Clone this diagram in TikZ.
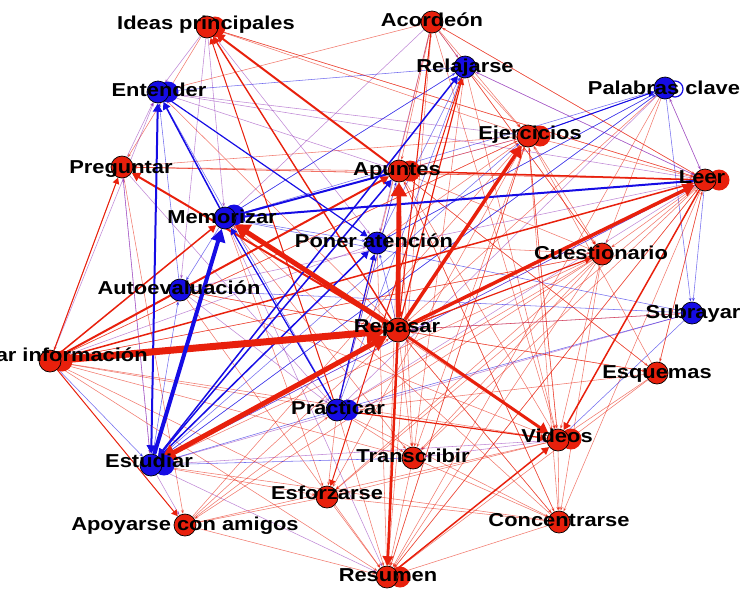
\documentclass[tikz,border=0pt]{standalone}
\usepackage{fontspec}
\setmainfont{Liberation Sans}[FakeStretch=1.17]
\usetikzlibrary{arrows.meta}
\definecolor{nred}{RGB}{232,32,12}
\definecolor{nblue}{RGB}{22,12,228}
\definecolor{npurp}{RGB}{140,40,180}
\pgfdeclarelayer{background}
\pgfsetlayers{background,main}
\begin{document}
\begin{tikzpicture}[x=1pt,y=-1pt,
  vr/.style={circle, fill=nred, draw=black, line width=0.7pt, minimum size=22pt, inner sep=0pt},
  vb/.style={vr, fill=nblue},
  gr/.style={circle, fill=nred, minimum size=21pt, inner sep=0pt},
  gb/.style={gr, fill=nblue},
  lab/.style={font=\fontsize{18.7}{20}\selectfont\bfseries, text=black, inner sep=0pt, anchor=base},
  tr/.style={draw=nred, line width=0.55pt, opacity=0.6, -{Stealth[length=4pt,width=3pt]}},
  tp/.style={draw=npurp, line width=0.55pt, opacity=0.55, -{Stealth[length=4pt,width=3pt]}},
  tb/.style={draw=nblue, line width=0.55pt, opacity=0.6, -{Stealth[length=4pt,width=3pt]}},
  hr/.style={draw=nred, line width=#1, -{Triangle[length={4pt 2.2},width={4pt 2.6}]}},
  hb/.style={draw=nblue, line width=#1, -{Triangle[length={4pt 2.2},width={4pt 2.6}]}},
  hrr/.style={draw=nred, line width=#1, {Triangle[length={4pt 2.2},width={4pt 2.6}]}-{Triangle[length={4pt 2.2},width={4pt 2.6}]}},
  hbb/.style={draw=nblue, line width=#1, {Triangle[length={4pt 2.2},width={4pt 2.6}]}-{Triangle[length={4pt 2.2},width={4pt 2.6}]}},
]
\useasboundingbox (0,0) rectangle (743,590);
\clip (0,0) rectangle (743,590);

% ---- second circles of the doubled vertices ----
\node[gr] at (215,27) {};
\node[gb] at (168,92) {};
\node[gr] at (540,136) {};
\node[gr] at (410,171) {};
\node[gr] at (719,180) {};
\node[gb] at (234,215) {};
\node[gr] at (62,361) {};
\node[gb] at (348,410) {};
\node[gb] at (164,465) {};
\node[gr] at (571,439) {};
\node[gr] at (400,577) {};
\node[circle, draw=nblue, line width=1.2pt, minimum size=16pt, inner sep=0pt] at (675,89) {};

% ---- vertices ----
\node[vr] (ide) at (207,27) {};
\node[vr] (aco) at (432,22) {};
\node[vb] (rel) at (465,67) {};
\node[vb] (ent) at (158,92) {};
\node[vb] (pal) at (665,88) {};
\node[vr] (eje) at (528,136) {};
\node[vr] (pre) at (122,167) {};
\node[vr] (apu) at (399,171) {};
\node[vr] (lee) at (705,180) {};
\node[vb] (mem) at (225,218) {};
\node[vb] (pon) at (377,243) {};
\node[vr] (cue) at (602,254) {};
\node[vb] (aut) at (180,290) {};
\node[vr, minimum size=24pt] (rep) at (398,330) {};
\node[vb] (sub) at (692,313) {};
\node[vr] (bus) at (50,361) {};
\node[vr] (esq) at (657,373) {};
\node[vb] (pra) at (337,410) {};
\node[vb] (est) at (151,465) {};
\node[vr] (vid) at (558,440) {};
\node[vr] (tra) at (413,458) {};
\node[vr] (esf) at (327,497) {};
\node[vr] (apo) at (185,525) {};
\node[vr] (con) at (559,522) {};
\node[vr] (res) at (387,577) {};

\begin{pgfonlayer}{background}
% ---- light links ----
\foreach \a/\b/\s in {
  ide/ent/tp, ide/pre/tr, ide/mem/tp, ide/eje/tr, ide/lee/tr, ide/pon/tp, ide/aut/tp,
  aco/apu/tr, aco/rel/tp, aco/eje/tr, aco/lee/tr, aco/pon/tp, aco/pra/tr, aco/vid/tr,
  aco/res/tr, aco/ent/tr, aco/mem/tp, aco/cue/tr,
  rel/lee/tp, rel/eje/tr, rel/vid/tr, rel/cue/tr, rel/tra/tr, rel/mem/tb,
  pal/eje/tb, pal/lee/tp, pal/rep/tr, pal/res/tr, pal/cue/tr, pal/sub/tb, pal/pon/tb,
  pal/mem/tb, pal/pra/tp, pal/est/tb,
  eje/lee/tr, eje/res/tr, eje/tra/tr, eje/cue/tr, eje/con/tr, eje/bus/tr, eje/pre/tr,
  eje/ent/tp, eje/mem/tp, eje/vid/tr, eje/esf/tr,
  pre/ent/tp, pre/bus/tr, pre/est/tp, pre/apo/tr, pre/apu/tr, pre/lee/tr, pre/pra/tp,
  apu/lee/tr, apu/vid/tr, apu/res/tr, apu/con/tr, apu/pra/tp, apu/tra/tr, apu/cue/tr,
  apu/ent/tp, apu/eje/tr, apu/esq/tr,
  lee/cue/tr, lee/esq/tr, lee/sub/tb, lee/con/tr, lee/tra/tr, lee/esf/tr, lee/pra/tp,
  lee/est/tp, lee/res/tr, lee/pre/tr, lee/ent/tp, lee/aco/tr, lee/ide/tr, lee/rel/tp,
  lee/pal/tp,
  mem/pra/tb, mem/res/tp, mem/tra/tr, mem/vid/tr, mem/pon/tb, mem/aut/tb, mem/rel/tb,
  mem/esf/tr,
  pon/pal/tb, pon/rel/tb, pon/eje/tr, pon/res/tr, pon/cue/tr,
  cue/res/tr, cue/vid/tr, cue/apo/tr, cue/est/tr, cue/pra/tr, cue/tra/tr, cue/esf/tr,
  cue/bus/tr, cue/con/tr,
  aut/ent/tb, aut/pra/tp, aut/rep/tr, aut/vid/tr, aut/lee/tp, aut/res/tr,
  sub/rep/tp, sub/est/tp, sub/pra/tb, sub/vid/tb, sub/aut/tb, sub/mem/tb,
  bus/ent/tp, bus/pra/tr, bus/tra/tr, bus/vid/tr, bus/est/tb, bus/res/tr, bus/esf/tr,
  bus/pon/tp, bus/cue/tr, bus/eje/tr,
  esq/rep/tr, esq/vid/tr, esq/res/tr, esq/apu/tr, esq/eje/tr, esq/lee/tr, esq/pra/tr,
  pra/res/tr, pra/esf/tr, pra/tra/tr, pra/con/tr, pra/rel/tb, pra/ent/tb, pra/apu/tb,
  est/apo/tp, est/res/tp, est/esf/tr, est/tra/tb, est/vid/tp, est/pra/tb, est/eje/tb,
  est/lee/tb, est/pal/tb, est/aut/tb, est/pre/tp,
  vid/con/tr, vid/tra/tp, vid/esf/tr, vid/apo/tr, vid/eje/tr,
  tra/res/tr, tra/con/tr, esf/res/tr, esf/apo/tr, esf/con/tr,
  apo/res/tr, apo/pra/tr, apo/rep/tr, apo/eje/tr,
  con/rep/tr, con/apu/tr, con/est/tr, con/res/tr, con/mem/tr,
  res/lee/tr, res/eje/tr,
  rep/ent/tr, rep/aut/tr, rep/tra/tr, rep/esq/tr, rep/sub/tr, rep/con/tr, rep/pon/tb,
  rep/aco/tr, ent/rel/tb}
  \draw[\s] (\a) -- (\b);

% ---- medium links ----
\draw[hr=2pt] (apu) -- (ide);
\draw[hr=1.4pt] (rep) -- (ide);
\draw[hr=1pt] (pra) -- (ide);
\draw[hr=2pt] (bus) -- (apu);
\draw[hr=1.5pt] (bus) -- (mem);
\draw[hr=1.5pt] (bus) -- (lee);
\draw[hr=1pt] (bus) -- (pre);
\draw[hr=1pt] (bus) -- (apo);
\draw[hr=1.5pt] (lee) -- (apu);
\draw[hr=1.5pt] (lee) -- (vid);
\draw[hr=1.5pt] (res) -- (vid);
\draw[hr=1.2pt] (pra) -- (vid);
\draw[hr=2pt] (rep) -- (pre);
\draw[hr=1.2pt] (rep) -- (cue);
\draw[hr=1.2pt] (rep) -- (rel);
\draw[hr=1pt] (rel) -- (esf);
\draw[hr=1pt] (aco) -- (rep);
\draw[hb=2pt] (lee) -- (mem);
\draw[hbb=2pt] (est) -- (ent);
\draw[hb=1.5pt] (mem) -- (ent);
\draw[hb=2pt] (apu) -- (mem);
\draw[hbb=1.5pt] (est) -- (rel);
\draw[hbb=1.5pt] (est) -- (pon);
\draw[hbb=1.5pt] (est) -- (apu);
\draw[hb=1.2pt] (ent) -- (pon);
\draw[hb=1.2pt] (pra) -- (mem);
\draw[hb=1pt] (pra) -- (pon);
\draw[hb=1pt] (eje) -- (pal);

% ---- heavy links ----
\draw[hr=7pt] (bus) -- (rep);
\draw[hr=5pt] (rep) -- (mem);
\draw[hrr=5pt] (est) -- (rep);
\draw[hr=4.5pt] (rep) -- (apu);
\draw[hr=3.5pt] (rep) -- (eje);
\draw[hr=3.5pt] (rep) -- (lee);
\draw[hr=3pt] (rep) -- (vid);
\draw[hr=2.5pt] (rep) -- (res);
\draw[hb=4pt] (est) -- (mem);
\end{pgfonlayer}

% ---- labels ----
\node[lab] (ide-l) at (206,29) {Ideas principales};
\node[lab] (aco-l) at (432,26) {Acordeón};
\node[lab] (rel-l) at (465,72) {Relajarse};
\node[lab] (ent-l) at (159,96) {Entender};
\node[lab] (pal-l) at (664,94) {Palabras clave};
\node[lab] (eje-l) at (530,139) {Ejercicios};
\node[lab] (pre-l) at (121,173) {Preguntar};
\node[lab] (apu-l) at (397,175) {Apuntes};
\node[lab] (lee-l) at (702,183) {Leer};
\node[lab] (mem-l) at (222,223) {Memorizar};
\node[lab] (pon-l) at (374,247) {Poner atención};
\node[lab] (cue-l) at (601,259) {Cuestionario};
\node[lab] (aut-l) at (179,294) {Autoevaluación};
\node[lab] (rep-l) at (397,332) {Repasar};
\node[lab] (sub-l) at (693,318) {Subrayar};
\node[lab] (bus-l) at (45,361) {Buscar información};
\node[lab] (esq-l) at (657,378) {Esquemas};
\node[lab] (pra-l) at (338,414) {Prácticar};
\node[lab] (est-l) at (149,467) {Estudiar};
\node[lab] (vid-l) at (557,442) {Videos};
\node[lab] (tra-l) at (413,462) {Transcribir};
\node[lab] (esf-l) at (327,499) {Esforzarse};
\node[lab] (apo-l) at (185,530) {Apoyarse con amigos};
\node[lab] (con-l) at (559,526) {Concentrarse};
\node[lab] (res-l) at (388,581) {Resumen};
\end{tikzpicture}
\end{document}
